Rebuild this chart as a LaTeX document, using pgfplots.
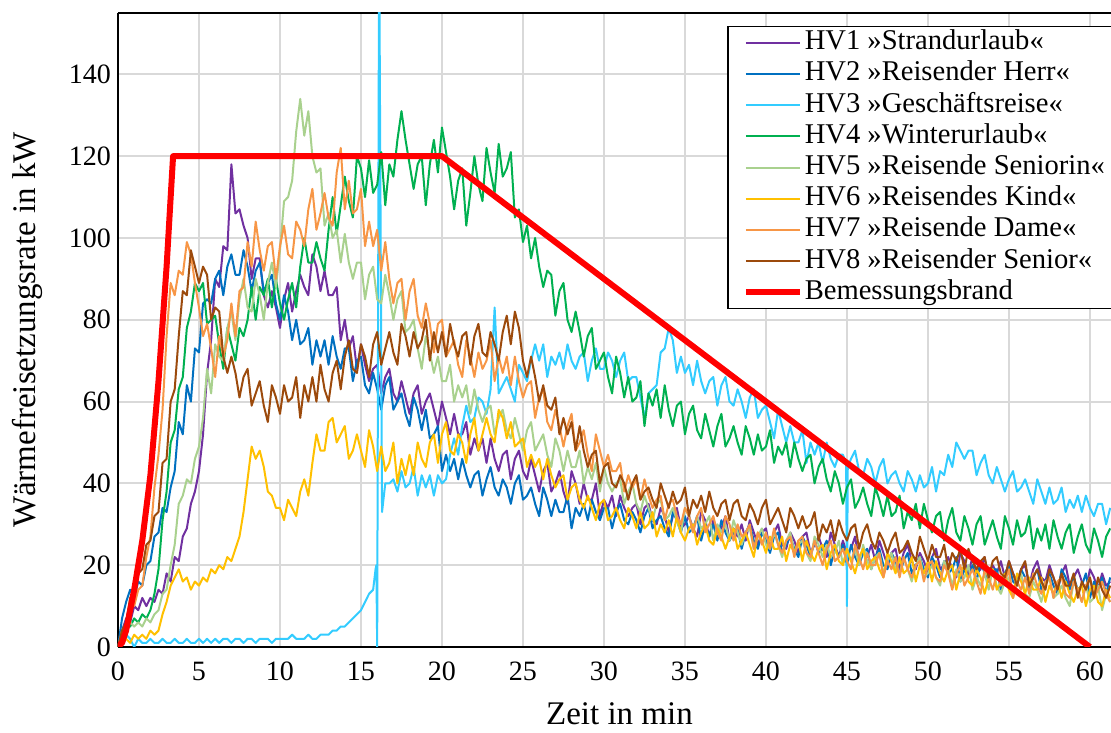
\documentclass[border=0pt]{standalone}
\usepackage{fontspec}
\setmainfont{Liberation Serif}
\usepackage{pgfplots}
\usepackage{pgfplotstable}
\pgfplotsset{compat=1.18}

\definecolor{hvone}{HTML}{7030A0}
\definecolor{hvtwo}{HTML}{0070C0}
\definecolor{hvthree}{HTML}{33CCFF}
\definecolor{hvfour}{HTML}{00B050}
\definecolor{hvfive}{HTML}{A9D18E}
\definecolor{hvsix}{HTML}{FFC000}
\definecolor{hvseven}{HTML}{F79646}
\definecolor{hveight}{HTML}{9C4A0C}
\definecolor{gridgray}{HTML}{D9D9D9}

% heat release rate in kW over time in min, one table per test
\pgfplotstableread[row sep=\\]{
0 0\\0.25 4\\0.5 7\\0.75 6\\1 10\\1.25 9\\1.5 12\\1.75 10\\
2 12\\2.25 11\\2.5 14\\2.75 13\\3 18\\3.25 16\\3.5 22\\3.75 21\\
4 27\\4.25 29\\4.5 35\\4.75 38\\5 43\\5.25 52\\5.5 67\\5.75 75\\
6 90\\6.25 88\\6.5 98\\6.75 97\\7 118\\7.25 106\\7.5 107\\7.75 103\\
8 100\\8.25 90\\8.5 95\\8.75 95\\9 86\\9.25 83\\9.5 87\\9.75 83\\
10 78\\10.25 85\\10.5 89\\10.75 82\\11 87\\11.25 91\\11.5 88\\11.75 86\\
12 96\\12.25 93\\12.5 87\\12.75 92\\13 86\\13.25 86\\13.5 88\\13.75 75\\
14 80\\14.25 73\\14.5 76\\14.75 68\\15 74\\15.25 69\\15.5 65\\15.75 68\\
16 69\\16.25 62\\16.5 66\\16.75 68\\17 62\\17.25 60\\17.5 65\\17.75 61\\
18 57\\18.25 62\\18.5 64\\18.75 57\\19 60\\19.25 62\\19.5 58\\19.75 54\\
20 60\\20.25 56\\20.5 52\\20.75 57\\21 52\\21.25 52\\21.5 55\\21.75 47\\
22 51\\22.25 48\\22.5 51\\22.75 45\\23 51\\23.25 46\\23.5 43\\23.75 47\\
24 48\\24.25 41\\24.5 46\\24.75 48\\25 43\\25.25 41\\25.5 46\\25.75 42\\
26 38\\26.25 43\\26.5 45\\26.75 38\\27 40\\27.25 43\\27.5 38\\27.75 35\\
28 43\\28.25 40\\28.5 35\\28.75 40\\29 36\\29.25 36\\29.5 40\\29.75 32\\
30 36\\30.25 34\\30.5 37\\30.75 32\\31 37\\31.25 34\\31.5 32\\31.75 34\\
32 35\\32.25 30\\32.5 34\\32.75 35\\33 31\\33.25 30\\33.5 34\\33.75 32\\
34 28\\34.25 32\\34.5 34\\34.75 29\\35 30\\35.25 32\\35.5 29\\35.75 27\\
36 33\\36.25 31\\36.5 27\\36.75 31\\37 28\\37.25 29\\37.5 32\\37.75 26\\
38 29\\38.25 27\\38.5 30\\38.75 26\\39 31\\39.25 28\\39.5 25\\39.75 28\\
40 29\\40.25 24\\40.5 28\\40.75 30\\41 25\\41.25 24\\41.5 28\\41.75 26\\
42 23\\42.25 27\\42.5 28\\42.75 23\\43 25\\43.25 27\\43.5 24\\43.75 22\\
44 28\\44.25 25\\44.5 22\\44.75 26\\45 23\\45.25 24\\45.5 27\\45.75 21\\
46 24\\46.25 22\\46.5 25\\46.75 21\\47 26\\47.25 23\\47.5 20\\47.75 23\\
48 24\\48.25 19\\48.5 23\\48.75 25\\49 21\\49.25 19\\49.5 23\\49.75 21\\
50 18\\50.25 22\\50.5 24\\50.75 19\\51 20\\51.25 22\\51.5 19\\51.75 17\\
52 23\\52.25 21\\52.5 18\\52.75 22\\53 18\\53.25 19\\53.5 22\\53.75 16\\
54 20\\54.25 18\\54.5 21\\54.75 17\\55 21\\55.25 18\\55.5 16\\55.75 19\\
56 20\\56.25 15\\56.5 19\\56.75 21\\57 17\\57.25 16\\57.5 20\\57.75 17\\
58 14\\58.25 18\\58.5 20\\58.75 15\\59 17\\59.25 19\\59.5 16\\59.75 14\\
60 19\\60.25 17\\60.5 14\\60.75 18\\61 15\\61.25 16\\
}\hvOne

\pgfplotstableread[row sep=\\]{
0 0\\0.25 7\\0.5 11\\0.75 14\\1 12\\1.25 16\\1.5 15\\1.75 20\\
2 21\\2.25 27\\2.5 28\\2.75 34\\3 33\\3.25 39\\3.5 43\\3.75 55\\
4 52\\4.25 64\\4.5 60\\4.75 73\\5 72\\5.25 84\\5.5 85\\5.75 84\\
6 90\\6.25 92\\6.5 86\\6.75 93\\7 96\\7.25 91\\7.5 91\\7.75 97\\
8 93\\8.25 87\\8.5 92\\8.75 94\\9 87\\9.25 89\\9.5 91\\9.75 84\\
10 80\\10.25 86\\10.5 82\\10.75 75\\11 80\\11.25 74\\11.5 75\\11.75 78\\
12 69\\12.25 75\\12.5 71\\12.75 75\\13 69\\13.25 76\\13.5 71\\13.75 68\\
14 73\\14.25 73\\14.5 65\\14.75 70\\15 71\\15.25 64\\15.5 62\\15.75 67\\
16 63\\16.25 58\\16.5 64\\16.75 66\\17 58\\17.25 60\\17.5 62\\17.75 57\\
18 54\\18.25 61\\18.5 58\\18.75 53\\19 58\\19.25 51\\19.5 52\\19.75 54\\
20 43\\20.25 47\\20.5 43\\20.75 46\\21 41\\21.25 46\\21.5 42\\21.75 39\\
22 42\\22.25 43\\22.5 37\\22.75 41\\23 44\\23.25 39\\23.5 37\\23.75 41\\
24 39\\24.25 35\\24.5 40\\24.75 42\\25 36\\25.25 37\\25.5 39\\25.75 35\\
26 32\\26.25 39\\26.5 36\\26.75 32\\27 36\\27.25 33\\27.5 33\\27.75 37\\
28 29\\28.25 34\\28.5 32\\28.75 35\\29 31\\29.25 36\\29.5 33\\29.75 31\\
30 34\\30.25 34\\30.5 29\\30.75 33\\31 35\\31.25 31\\31.5 30\\31.75 33\\
32 31\\32.25 28\\32.5 32\\32.75 34\\33 29\\33.25 31\\33.5 32\\33.75 29\\
34 27\\34.25 33\\34.5 31\\34.75 28\\35 32\\35.25 28\\35.5 29\\35.75 32\\
36 26\\36.25 30\\36.5 27\\36.75 30\\37 26\\37.25 31\\37.5 28\\37.75 26\\
38 28\\38.25 29\\38.5 24\\38.75 28\\39 30\\39.25 26\\39.5 24\\39.75 28\\
40 26\\40.25 23\\40.5 27\\40.75 28\\41 23\\41.25 25\\41.5 27\\41.75 24\\
42 22\\42.25 27\\42.5 25\\42.75 22\\43 26\\43.25 23\\43.5 24\\43.75 26\\
44 20\\44.25 24\\44.5 22\\44.75 25\\45 20\\45.25 25\\45.5 22\\45.75 20\\
46 23\\46.25 24\\46.5 19\\46.75 22\\47 24\\47.25 20\\47.5 19\\47.75 23\\
48 21\\48.25 18\\48.5 21\\48.75 23\\49 18\\49.25 20\\49.5 22\\49.75 19\\
50 17\\50.25 22\\50.5 20\\50.75 17\\51 21\\51.25 18\\51.5 19\\51.75 22\\
52 16\\52.25 19\\52.5 17\\52.75 20\\53 16\\53.25 21\\53.5 18\\53.75 16\\
54 19\\54.25 19\\54.5 14\\54.75 18\\55 20\\55.25 16\\55.5 15\\55.75 19\\
56 17\\56.25 14\\56.5 17\\56.75 19\\57 14\\57.25 16\\57.5 18\\57.75 15\\
58 13\\58.25 19\\58.5 17\\58.75 14\\59 17\\59.25 14\\59.5 15\\59.75 18\\
60 12\\60.25 16\\60.5 14\\60.75 17\\61 13\\61.25 17\\
}\hvTwo

\pgfplotstableread[row sep=\\]{
0 0\\0.25 2\\0.5 3\\0.75 2\\1 0\\1.25 2\\1.5 1\\1.75 1\\
2 2\\2.25 1\\2.5 1\\2.75 2\\3 1\\3.25 1\\3.5 2\\3.75 1\\
4 1\\4.25 2\\4.5 1\\4.75 1\\5 2\\5.25 1\\5.5 2\\5.75 1\\
6 2\\6.25 1\\6.5 2\\6.75 2\\7 1\\7.25 2\\7.5 2\\7.75 1\\
8 2\\8.25 2\\8.5 1\\8.75 2\\9 2\\9.25 2\\9.5 1\\9.75 2\\
10 2\\10.25 2\\10.5 2\\10.75 3\\11 2\\11.25 2\\11.5 2\\11.75 3\\
12 2\\12.25 2\\12.5 3\\12.75 3\\13 3\\13.25 4\\13.5 4\\13.75 5\\
14 5\\14.25 6\\14.5 7\\14.75 8\\15 9\\15.25 11\\15.5 13\\15.75 14\\
15.9 19\\15.95 20\\16 0\\16.12 175\\16.3 33\\16.5 40\\16.75 40\\
17 41\\17.25 38\\17.5 43\\17.75 39\\18 40\\18.25 44\\18.5 37\\18.75 42\\
19 39\\19.25 42\\19.5 37\\19.75 42\\20 40\\20.25 41\\20.5 47\\20.75 51\\
21 47\\21.25 54\\21.5 59\\21.75 55\\22 56\\22.25 61\\22.5 60\\22.75 57\\
23 63\\23.25 83\\23.5 62\\23.75 64\\24 66\\24.25 63\\24.5 60\\24.75 69\\
25 67\\25.25 65\\25.5 70\\25.75 74\\26 70\\26.25 74\\26.5 66\\26.75 71\\
27 69\\27.25 72\\27.5 68\\27.75 74\\28 70\\28.25 68\\28.5 71\\28.75 72\\
29 65\\29.25 70\\29.5 73\\29.75 68\\30 68\\30.25 72\\30.5 70\\30.75 66\\
31 70\\31.25 72\\31.5 65\\31.75 66\\32 66\\32.25 61\\32.5 56\\32.75 62\\
33 63\\33.25 64\\33.5 72\\33.75 73\\34 78\\34.25 75\\34.5 67\\34.75 71\\
35 67\\35.25 69\\35.5 64\\35.75 70\\36 65\\36.25 62\\36.5 65\\36.75 66\\
37 59\\37.25 64\\37.5 66\\37.75 60\\38 59\\38.25 63\\38.5 60\\38.75 56\\
39 61\\39.25 63\\39.5 56\\39.75 58\\40 59\\40.25 55\\40.5 51\\40.75 58\\
41 54\\41.25 50\\41.5 54\\41.75 50\\42 50\\42.25 53\\42.5 45\\42.75 50\\
43 47\\43.25 50\\43.5 45\\43.75 50\\44 46\\44.25 44\\44.5 47\\44.75 47\\
44.95 45\\45 10\\45.05 44\\45.25 46\\45.5 48\\45.75 43\\
46 42\\46.25 46\\46.5 44\\46.75 40\\47 44\\47.25 46\\47.5 40\\47.75 42\\
48 43\\48.25 40\\48.5 38\\48.75 43\\49 41\\49.25 38\\49.5 42\\49.75 39\\
50 40\\50.25 44\\50.5 38\\50.75 43\\51 42\\51.25 47\\51.5 44\\51.75 50\\
52 48\\52.25 46\\52.5 48\\52.75 48\\53 42\\53.25 45\\53.5 47\\53.75 42\\
54 40\\54.25 44\\54.5 41\\54.75 38\\55 41\\55.25 43\\55.5 38\\55.75 39\\
56 41\\56.25 38\\56.5 35\\56.75 41\\57 38\\57.25 35\\57.5 39\\57.75 35\\
58 36\\58.25 39\\58.5 33\\58.75 36\\59 34\\59.25 37\\59.5 33\\59.75 37\\
60 34\\60.25 32\\60.5 35\\60.75 35\\61 30\\61.25 34\\
}\hvThree

\pgfplotstableread[row sep=\\]{
0 0\\0.25 3\\0.5 6\\0.75 5\\1 7\\1.25 6\\1.5 8\\1.75 7\\
2 9\\2.25 13\\2.5 19\\2.75 31\\3 38\\3.25 50\\3.5 53\\3.75 63\\
4 66\\4.25 78\\4.5 82\\4.75 89\\5 87\\5.25 89\\5.5 79\\5.75 80\\
6 81\\6.25 74\\6.5 68\\6.75 78\\7 74\\7.25 70\\7.5 78\\7.75 76\\
8 80\\8.25 88\\8.5 80\\8.75 88\\9 86\\9.25 90\\9.5 83\\9.75 90\\
10 84\\10.25 80\\10.5 85\\10.75 89\\11 83\\11.25 93\\11.5 100\\11.75 94\\
12 94\\12.25 99\\12.5 95\\12.75 92\\13 102\\13.25 110\\13.5 101\\13.75 108\\
14 115\\14.25 109\\14.5 105\\14.75 120\\15 117\\15.25 110\\15.5 119\\15.75 111\\
16 113\\16.25 121\\16.5 108\\16.75 118\\17 115\\17.25 124\\17.5 131\\17.75 124\\
18 118\\18.25 112\\18.5 118\\18.75 120\\19 108\\19.25 118\\19.5 124\\19.75 116\\
20 127\\20.25 121\\20.5 115\\20.75 107\\21 114\\21.25 117\\21.5 103\\21.75 111\\
22 120\\22.25 113\\22.5 109\\22.75 122\\23 116\\23.25 111\\23.5 123\\23.75 115\\
24 117\\24.25 121\\24.5 105\\24.75 107\\25 99\\25.25 103\\25.5 95\\25.75 100\\
26 93\\26.25 88\\26.5 92\\26.75 91\\27 81\\27.25 87\\27.5 89\\27.75 80\\
28 77\\28.25 82\\28.5 77\\28.75 71\\29 76\\29.25 78\\29.5 68\\29.75 70\\
30 72\\30.25 66\\30.5 62\\30.75 71\\31 67\\31.25 61\\31.5 66\\31.75 60\\
32 61\\32.25 65\\32.5 54\\32.75 62\\33 59\\33.25 63\\33.5 56\\33.75 64\\
34 58\\34.25 54\\34.5 59\\34.75 60\\35 52\\35.25 57\\35.5 59\\35.75 53\\
36 51\\36.25 57\\36.5 53\\36.75 49\\37 54\\37.25 57\\37.5 49\\37.75 51\\
38 54\\38.25 50\\38.5 47\\38.75 54\\39 51\\39.25 47\\39.5 52\\39.75 48\\
40 49\\40.25 53\\40.5 45\\40.75 49\\41 47\\41.25 50\\41.5 44\\41.75 50\\
42 46\\42.25 43\\42.5 46\\42.75 47\\43 40\\43.25 44\\43.5 46\\43.75 41\\
44 38\\44.25 43\\44.5 40\\44.75 35\\45 39\\45.25 41\\45.5 34\\45.75 36\\
46 39\\46.25 35\\46.5 32\\46.75 39\\47 36\\47.25 32\\47.5 37\\47.75 32\\
48 33\\48.25 37\\48.5 29\\48.75 33\\49 31\\49.25 35\\49.5 29\\49.75 35\\
50 31\\50.25 28\\50.5 32\\50.75 33\\51 26\\51.25 31\\51.5 34\\51.75 28\\
52 26\\52.25 32\\52.5 29\\52.75 25\\53 30\\53.25 32\\53.5 25\\53.75 28\\
54 31\\54.25 27\\54.5 24\\54.75 32\\55 29\\55.25 25\\55.5 31\\55.75 27\\
56 28\\56.25 32\\56.5 24\\56.75 29\\57 26\\57.25 30\\57.5 24\\57.75 31\\
58 27\\58.25 24\\58.5 28\\58.75 30\\59 23\\59.25 27\\59.5 30\\59.75 25\\
60 23\\60.25 29\\60.5 26\\60.75 22\\61 27\\61.25 29\\
}\hvFour

\pgfplotstableread[row sep=\\]{
0 0\\0.25 3\\0.5 4\\0.75 6\\1 5\\1.25 6\\1.5 5\\1.75 7\\
2 6\\2.25 8\\2.5 9\\2.75 13\\3 14\\3.25 20\\3.5 25\\3.75 35\\
4 37\\4.25 41\\4.5 40\\4.75 46\\5 49\\5.25 56\\5.5 68\\5.75 62\\
6 74\\6.25 71\\6.5 70\\6.75 78\\7 82\\7.25 75\\7.5 85\\7.75 90\\
8 83\\8.25 82\\8.5 90\\8.75 86\\9 80\\9.25 89\\9.5 94\\9.75 88\\
10 97\\10.25 109\\10.5 110\\10.75 114\\11 126\\11.25 134\\11.5 125\\11.75 131\\
12 120\\12.25 116\\12.5 117\\12.75 103\\13 106\\13.25 100\\13.5 102\\13.75 94\\
14 101\\14.25 94\\14.5 90\\14.75 94\\15 94\\15.25 85\\15.5 91\\15.75 93\\
16 85\\16.25 84\\16.5 91\\16.75 86\\17 80\\17.25 85\\17.5 87\\17.75 77\\
18 78\\18.25 80\\18.5 73\\18.75 68\\19 76\\19.25 72\\19.5 67\\19.75 71\\
20 65\\20.25 65\\20.5 69\\20.75 60\\21 64\\21.25 61\\21.5 64\\21.75 57\\
22 63\\22.25 58\\22.5 55\\22.75 58\\23 59\\23.25 52\\23.5 56\\23.75 58\\
24 53\\24.25 51\\24.5 56\\24.75 52\\25 48\\25.25 53\\25.5 55\\25.75 48\\
26 50\\26.25 52\\26.5 47\\26.75 44\\27 51\\27.25 48\\27.5 43\\27.75 48\\
28 44\\28.25 44\\28.5 48\\28.75 40\\29 44\\29.25 41\\29.5 45\\29.75 38\\
30 44\\30.25 40\\30.5 38\\30.75 40\\31 41\\31.25 35\\31.5 38\\31.75 40\\
32 35\\32.25 33\\32.5 37\\32.75 34\\33 31\\33.25 35\\33.5 36\\33.75 31\\
34 32\\34.25 34\\34.5 31\\34.75 28\\35 34\\35.25 32\\35.5 28\\35.75 32\\
36 29\\36.25 30\\36.5 32\\36.75 26\\37 30\\37.25 28\\37.5 30\\37.75 26\\
38 31\\38.25 28\\38.5 25\\38.75 28\\39 29\\39.25 24\\39.5 27\\39.75 29\\
40 25\\40.25 24\\40.5 28\\40.75 25\\41 22\\41.25 26\\41.5 28\\41.75 23\\
42 25\\42.25 26\\42.5 23\\42.75 21\\43 27\\43.25 25\\43.5 22\\43.75 25\\
44 22\\44.25 23\\44.5 26\\44.75 20\\45 24\\45.25 21\\45.5 24\\45.75 20\\
46 25\\46.25 21\\46.5 19\\46.75 22\\47 23\\47.25 18\\47.5 21\\47.75 23\\
48 19\\48.25 18\\48.5 22\\48.75 19\\49 16\\49.25 20\\49.5 22\\49.75 17\\
50 18\\50.25 20\\50.5 17\\50.75 15\\51 21\\51.25 19\\51.5 15\\51.75 19\\
52 16\\52.25 17\\52.5 20\\52.75 14\\53 17\\53.25 15\\53.5 18\\53.75 14\\
54 19\\54.25 15\\54.5 13\\54.75 16\\55 17\\55.25 12\\55.5 16\\55.75 18\\
56 13\\56.25 12\\56.5 16\\56.75 14\\57 11\\57.25 15\\57.5 17\\57.75 12\\
58 13\\58.25 15\\58.5 12\\58.75 10\\59 16\\59.25 14\\59.5 11\\59.75 15\\
60 11\\60.25 12\\60.5 15\\60.75 9\\61 13\\61.25 11\\
}\hvFive

\pgfplotstableread[row sep=\\]{
0 0\\0.25 3\\0.5 2\\0.75 1\\1 3\\1.25 2\\1.5 3\\1.75 2\\
2 4\\2.25 3\\2.5 4\\2.75 8\\3 11\\3.25 15\\3.5 17\\3.75 19\\
4 16\\4.25 17\\4.5 14\\4.75 16\\5 15\\5.25 17\\5.5 16\\5.75 19\\
6 18\\6.25 20\\6.5 19\\6.75 22\\7 21\\7.25 24\\7.5 27\\7.75 33\\
8 41\\8.25 49\\8.5 46\\8.75 48\\9 44\\9.25 38\\9.5 37\\9.75 34\\
10 34\\10.25 31\\10.5 36\\10.75 34\\11 32\\11.25 38\\11.5 41\\11.75 37\\
12 45\\12.25 52\\12.5 48\\12.75 48\\13 55\\13.25 56\\13.5 50\\13.75 52\\
14 54\\14.25 46\\14.5 48\\14.75 52\\15 48\\15.25 44\\15.5 53\\15.75 49\\
16 43\\16.25 49\\16.5 43\\16.75 45\\17 50\\17.25 40\\17.5 46\\17.75 42\\
18 47\\18.25 42\\18.5 50\\18.75 46\\19 44\\19.25 50\\19.5 52\\19.75 45\\
20 52\\20.25 55\\20.5 48\\20.75 47\\21 52\\21.25 50\\21.5 45\\21.75 52\\
22 56\\22.25 48\\22.5 52\\22.75 56\\23 52\\23.25 50\\23.5 58\\23.75 56\\
24 51\\24.25 55\\24.5 49\\24.75 50\\25 51\\25.25 44\\25.5 47\\25.75 44\\
26 46\\26.25 41\\26.5 46\\26.75 42\\27 39\\27.25 41\\27.5 42\\27.75 36\\
28 39\\28.25 40\\28.5 36\\28.75 34\\29 37\\29.25 34\\29.5 31\\29.75 35\\
30 36\\30.25 31\\30.5 32\\30.75 34\\31 31\\31.25 29\\31.5 34\\31.75 32\\
32 29\\32.25 33\\32.5 29\\32.75 30\\33 33\\33.25 27\\33.5 30\\33.75 28\\
34 31\\34.25 27\\34.5 32\\34.75 28\\35 26\\35.25 29\\35.5 30\\35.75 25\\
36 28\\36.25 30\\36.5 26\\36.75 25\\37 29\\37.25 27\\37.5 24\\37.75 27\\
38 29\\38.25 24\\38.5 26\\38.75 28\\39 25\\39.25 22\\39.5 28\\39.75 26\\
40 23\\40.25 27\\40.5 24\\40.75 24\\41 27\\41.25 21\\41.5 25\\41.75 23\\
42 26\\42.25 21\\42.5 26\\42.75 23\\43 21\\43.25 24\\43.5 25\\43.75 19\\
44 23\\44.25 25\\44.5 21\\44.75 20\\45 24\\45.25 21\\45.5 18\\45.75 22\\
46 24\\46.25 19\\46.5 21\\46.75 22\\47 19\\47.25 17\\47.5 23\\47.75 21\\
48 18\\48.25 22\\48.5 18\\48.75 19\\49 22\\49.25 16\\49.5 20\\49.75 18\\
50 21\\50.25 16\\50.5 21\\50.75 18\\51 16\\51.25 19\\51.5 20\\51.75 14\\
52 18\\52.25 20\\52.5 16\\52.75 15\\53 19\\53.25 17\\53.5 13\\53.75 17\\
54 19\\54.25 14\\54.5 16\\54.75 18\\55 14\\55.25 12\\55.5 18\\55.75 16\\
56 13\\56.25 17\\56.5 14\\56.75 14\\57 17\\57.25 11\\57.5 15\\57.75 13\\
58 16\\58.25 12\\58.5 16\\58.75 13\\59 11\\59.25 14\\59.5 15\\59.75 10\\
60 14\\60.25 15\\60.5 11\\60.75 10\\61 14\\61.25 12\\
}\hvSix

\pgfplotstableread[row sep=\\]{
0 0\\0.25 4\\0.5 5\\0.75 10\\1 10\\1.25 14\\1.5 15\\1.75 22\\
2 27\\2.25 39\\2.5 47\\2.75 58\\3 76\\3.25 89\\3.5 86\\3.75 92\\
4 91\\4.25 99\\4.5 96\\4.75 89\\5 83\\5.25 76\\5.5 79\\5.75 73\\
6 66\\6.25 76\\6.5 71\\6.75 75\\7 84\\7.25 76\\7.5 87\\7.75 88\\
8 99\\8.25 93\\8.5 104\\8.75 97\\9 92\\9.25 98\\9.5 99\\9.75 90\\
10 98\\10.25 103\\10.5 96\\10.75 95\\11 104\\11.25 102\\11.5 98\\11.75 107\\
12 112\\12.25 102\\12.5 106\\12.75 111\\13 105\\13.25 103\\13.5 116\\13.75 122\\
14 107\\14.25 114\\14.5 106\\14.75 107\\15 112\\15.25 98\\15.5 104\\15.75 98\\
16 102\\16.25 92\\16.5 99\\16.75 90\\17 84\\17.25 89\\17.5 90\\17.75 80\\
18 87\\18.25 90\\18.5 81\\18.75 78\\19 84\\19.25 79\\19.5 72\\19.75 79\\
20 80\\20.25 71\\20.5 73\\20.75 75\\21 69\\21.25 66\\21.5 75\\21.75 71\\
22 66\\22.25 72\\22.5 68\\22.75 70\\23 75\\23.25 65\\23.5 71\\23.75 67\\
24 71\\24.25 64\\24.5 71\\24.75 65\\25 61\\25.25 64\\25.5 65\\25.75 56\\
26 61\\26.25 63\\26.5 55\\26.75 53\\27 58\\27.25 54\\27.5 49\\27.75 54\\
28 57\\28.25 48\\28.5 50\\28.75 53\\29 47\\29.25 43\\29.5 52\\29.75 48\\
30 44\\30.25 47\\30.5 43\\30.75 43\\31 45\\31.25 38\\31.5 42\\31.75 39\\
32 41\\32.25 36\\32.5 41\\32.75 37\\33 34\\33.25 36\\33.5 37\\33.75 31\\
34 35\\34.25 36\\34.5 32\\34.75 30\\35 34\\35.25 32\\35.5 28\\35.75 32\\
36 34\\36.25 28\\36.5 30\\36.75 32\\37 28\\37.25 26\\37.5 32\\37.75 30\\
38 26\\38.25 30\\38.5 27\\38.75 28\\39 30\\39.25 24\\39.5 28\\39.75 25\\
40 28\\40.25 24\\40.5 29\\40.75 25\\41 23\\41.25 26\\41.5 27\\41.75 22\\
42 26\\42.25 27\\42.5 23\\42.75 22\\43 26\\43.25 23\\43.5 20\\43.75 24\\
44 26\\44.25 21\\44.5 22\\44.75 24\\45 21\\45.25 19\\45.5 25\\45.75 22\\
46 19\\46.25 23\\46.5 20\\46.75 20\\47 23\\47.25 17\\47.5 21\\47.75 19\\
48 22\\48.25 17\\48.5 22\\48.75 19\\49 17\\49.25 20\\49.5 21\\49.75 16\\
50 20\\50.25 21\\50.5 17\\50.75 16\\51 20\\51.25 18\\51.5 14\\51.75 18\\
52 20\\52.25 15\\52.5 17\\52.75 19\\53 16\\53.25 13\\53.5 19\\53.75 17\\
54 14\\54.25 18\\54.5 15\\54.75 16\\55 19\\55.25 12\\55.5 16\\55.75 14\\
56 17\\56.25 13\\56.5 18\\56.75 15\\57 13\\57.25 16\\57.5 17\\57.75 12\\
58 16\\58.25 17\\58.5 13\\58.75 12\\59 16\\59.25 14\\59.5 11\\59.75 15\\
60 17\\60.25 12\\60.5 14\\60.75 16\\61 13\\61.25 11\\
}\hvSeven

\pgfplotstableread[row sep=\\]{
0 0\\0.25 4\\0.5 6\\0.75 12\\1 13\\1.25 18\\1.5 19\\1.75 25\\
2 26\\2.25 32\\2.5 33\\2.75 45\\3 46\\3.25 60\\3.5 63\\3.75 76\\
4 87\\4.25 86\\4.5 97\\4.75 93\\5 89\\5.25 93\\5.5 91\\5.75 80\\
6 83\\6.25 82\\6.5 71\\6.75 67\\7 71\\7.25 67\\7.5 61\\7.75 66\\
8 68\\8.25 59\\8.5 62\\8.75 65\\9 59\\9.25 55\\9.5 64\\9.75 61\\
10 57\\10.25 64\\10.5 60\\10.75 61\\11 66\\11.25 56\\11.5 64\\11.75 60\\
12 66\\12.25 60\\12.5 69\\12.75 63\\13 60\\13.25 67\\13.5 70\\13.75 63\\
14 71\\14.25 75\\14.5 68\\14.75 67\\15 74\\15.25 71\\15.5 66\\15.75 74\\
16 77\\16.25 69\\16.5 73\\16.75 77\\17 72\\17.25 69\\17.5 79\\17.75 76\\
18 71\\18.25 77\\18.5 73\\18.75 75\\19 80\\19.25 70\\19.5 77\\19.75 72\\
20 77\\20.25 71\\20.5 79\\20.75 74\\21 71\\21.25 76\\21.5 77\\21.75 69\\
22 76\\22.25 79\\22.5 72\\22.75 71\\23 77\\23.25 74\\23.5 70\\23.75 77\\
24 81\\24.25 74\\24.5 82\\24.75 78\\25 70\\25.25 66\\25.5 71\\25.75 66\\
26 60\\26.25 64\\26.5 59\\26.75 58\\27 61\\27.25 52\\27.5 56\\27.75 52\\
28 55\\28.25 48\\28.5 54\\28.75 48\\29 44\\29.25 47\\29.5 48\\29.75 40\\
30 44\\30.25 45\\30.5 40\\30.75 39\\31 42\\31.25 40\\31.5 36\\31.75 40\\
32 42\\32.25 36\\32.5 38\\32.75 39\\33 36\\33.25 34\\33.5 40\\33.75 37\\
34 34\\34.25 38\\34.5 35\\34.75 36\\35 39\\35.25 32\\35.5 36\\35.75 34\\
36 37\\36.25 33\\36.5 38\\36.75 34\\37 32\\37.25 35\\37.5 36\\37.75 31\\
38 35\\38.25 36\\38.5 32\\38.75 31\\39 35\\39.25 33\\39.5 30\\39.75 34\\
40 36\\40.25 30\\40.5 32\\40.75 34\\41 31\\41.25 28\\41.5 34\\41.75 32\\
42 29\\42.25 32\\42.5 29\\42.75 30\\43 33\\43.25 26\\43.5 30\\43.75 28\\
44 31\\44.25 26\\44.5 31\\44.75 28\\45 26\\45.25 29\\45.5 30\\45.75 24\\
46 28\\46.25 30\\46.5 26\\46.75 24\\47 28\\47.25 26\\47.5 23\\47.75 26\\
48 28\\48.25 23\\48.5 24\\48.75 26\\49 23\\49.25 21\\49.5 27\\49.75 24\\
50 21\\50.25 25\\50.5 22\\50.75 22\\51 25\\51.25 19\\51.5 23\\51.75 21\\
52 24\\52.25 19\\52.5 24\\52.75 21\\53 19\\53.25 21\\53.5 22\\53.75 17\\
54 21\\54.25 22\\54.5 18\\54.75 17\\55 21\\55.25 18\\55.5 15\\55.75 19\\
56 21\\56.25 15\\56.5 17\\56.75 19\\57 16\\57.25 14\\57.5 19\\57.75 17\\
58 14\\58.25 18\\58.5 15\\58.75 15\\59 18\\59.25 12\\59.5 16\\59.75 14\\
60 17\\60.25 12\\60.5 17\\60.75 14\\61 12\\61.25 15\\
}\hvEight

% design fire: growth phase, plateau of 120 kW, linear decay to 60 min
\pgfplotstableread[row sep=\\]{
0 0\\0.25 1\\0.5 4\\0.75 9\\1 14\\1.5 26\\2 42\\2.5 65\\3 93\\3.4 120\\20 120\\60 0\\
}\design

\begin{document}
\begin{tikzpicture}
\begin{axis}[
  name=ax,
  scale only axis,
  width=496.5pt, height=317pt,
  xmin=0, xmax=61.3, ymin=0, ymax=155,
  axis x line=box, axis y line=left,
  axis line style={-, line width=1pt, black},
  xtick={0,5,...,60}, ytick={0,20,...,140},
  major tick length=0pt,
  grid=major,
  major grid style={line width=1pt, color=gridgray},
  /pgf/number format/assume math mode=true,
  tick label style={font=\fontsize{14pt}{16pt}\selectfont},
  xticklabel style={yshift=-4pt},
  xlabel={Zeit in min},
  ylabel={Wärmefreisetzungsrate in kW},
  label style={font=\fontsize{16.5pt}{19pt}\selectfont},
  xlabel style={at={(axis description cs:0.505,-0.123)}, anchor=base},
  ylabel style={at={(axis description cs:-0.0826,0.5)}, anchor=base},
  legend cell align=left,
  legend style={at={(axis description cs:0.6133,0.9795)}, anchor=north west,
    draw=black, line width=0.75pt, fill=white,
    font=\fontsize{14.3pt}{16pt}\selectfont,
    inner xsep=7.5pt, inner ysep=1.5pt, column sep=1pt, row sep=2.6pt,
    nodes={inner sep=0pt, text height=10pt, text depth=3pt}},
  legend image code/.code={\draw[#1] (0pt,0pt) -- (27pt,0pt);},
  every axis plot/.append style={line width=1pt, line join=round},
]
\addplot[hvone] table {\hvOne};
\addlegendentry{HV1 »Strandurlaub«}
\addplot[hvtwo] table {\hvTwo};
\addlegendentry{HV2 »Reisender Herr«}
\addplot[hvthree] table {\hvThree};
\addlegendentry{HV3 »Geschäftsreise«}
\addplot[hvfour] table {\hvFour};
\addlegendentry{HV4 »Winterurlaub«}
\addplot[hvfive] table {\hvFive};
\addlegendentry{HV5 »Reisende Seniorin«}
\addplot[hvsix] table {\hvSix};
\addlegendentry{HV6 »Reisendes Kind«}
\addplot[hvseven] table {\hvSeven};
\addlegendentry{HV7 »Reisende Dame«}
\addplot[hveight] table {\hvEight};
\addlegendentry{HV8 »Reisender Senior«}
\addplot[red, line width=3pt] table {\design};
\addlegendentry{Bemessungsbrand}
\end{axis}
\pgfresetboundingbox
\path[use as bounding box] ([xshift=-59pt,yshift=-43pt]ax.south west) rectangle ([yshift=6.5pt]ax.north east);
\end{tikzpicture}
\end{document}
